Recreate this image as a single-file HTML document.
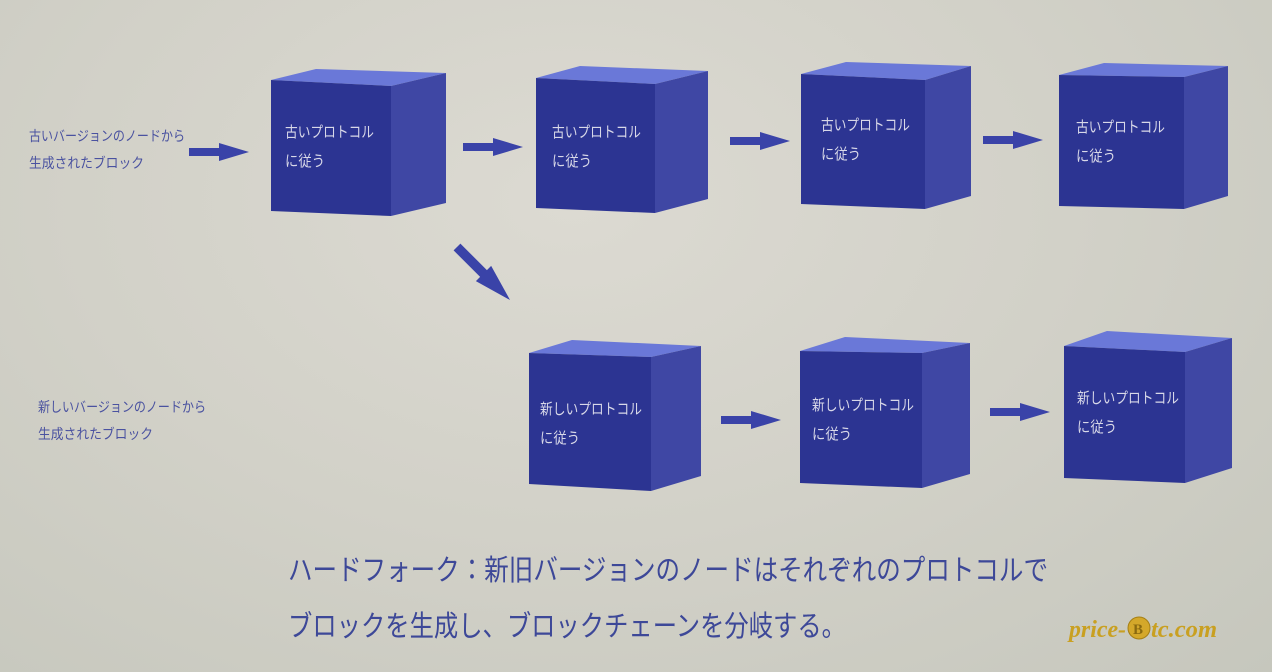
<!DOCTYPE html>
<html><head><meta charset="utf-8"><style>
html,body{margin:0;padding:0;}
body{width:1272px;height:672px;overflow:hidden;background:radial-gradient(ellipse at 45% 30%,#dcdad2 0%,#d2d1c8 50%,#c6c7bd 100%);font-family:"Liberation Sans","Noto Sans CJK JP",sans-serif;}
svg{position:absolute;left:0;top:0;}
</style></head><body>
<svg width="1272" height="672" viewBox="0 0 1272 672">
<defs>
<g id="arr"><polygon points="0,-4 30,-4 30,-9 60,0 30,9 30,4 0,4" fill="#3a43a8"/></g>
</defs>
<g font-family="Liberation Sans, Noto Sans CJK JP, sans-serif">
<polygon points="271,80 316,69 446,73 391,86" fill="#6a78d8"/>
<polygon points="391,86 446,73 446,203 391,216" fill="#3f47a4"/>
<polygon points="271,80 391,86 391,216 271,211" fill="#2c3492"/>
<text x="285" y="137" font-size="15" fill="#d8d8e8" textLength="89" lengthAdjust="spacingAndGlyphs">古いプロトコル</text>
<text x="285" y="166" font-size="15" fill="#d8d8e8" textLength="40" lengthAdjust="spacingAndGlyphs">に従う</text>
<polygon points="536,78 580,66 708,71 655,84" fill="#6a78d8"/>
<polygon points="655,84 708,71 708,199 655,213" fill="#3f47a4"/>
<polygon points="536,78 655,84 655,213 536,208" fill="#2c3492"/>
<text x="552" y="137" font-size="15" fill="#d8d8e8" textLength="89" lengthAdjust="spacingAndGlyphs">古いプロトコル</text>
<text x="552" y="166" font-size="15" fill="#d8d8e8" textLength="40" lengthAdjust="spacingAndGlyphs">に従う</text>
<polygon points="801,74 846,62 971,66 925,80" fill="#6a78d8"/>
<polygon points="925,80 971,66 971,196 925,209" fill="#3f47a4"/>
<polygon points="801,74 925,80 925,209 801,204" fill="#2c3492"/>
<text x="821" y="130" font-size="15" fill="#d8d8e8" textLength="89" lengthAdjust="spacingAndGlyphs">古いプロトコル</text>
<text x="821" y="159" font-size="15" fill="#d8d8e8" textLength="40" lengthAdjust="spacingAndGlyphs">に従う</text>
<polygon points="1059,75 1104,63 1228,66 1184,77" fill="#6a78d8"/>
<polygon points="1184,77 1228,66 1228,196 1184,209" fill="#3f47a4"/>
<polygon points="1059,75 1184,77 1184,209 1059,206" fill="#2c3492"/>
<text x="1076" y="132" font-size="15" fill="#d8d8e8" textLength="89" lengthAdjust="spacingAndGlyphs">古いプロトコル</text>
<text x="1076" y="161" font-size="15" fill="#d8d8e8" textLength="40" lengthAdjust="spacingAndGlyphs">に従う</text>
<polygon points="529,353 572,340 701,346 651,357" fill="#6a78d8"/>
<polygon points="651,357 701,346 701,476 651,491" fill="#3f47a4"/>
<polygon points="529,353 651,357 651,491 529,484" fill="#2c3492"/>
<text x="540" y="414" font-size="15" fill="#d8d8e8" textLength="102" lengthAdjust="spacingAndGlyphs">新しいプロトコル</text>
<text x="540" y="443" font-size="15" fill="#d8d8e8" textLength="40" lengthAdjust="spacingAndGlyphs">に従う</text>
<polygon points="800,351 845,337 970,343 922,353" fill="#6a78d8"/>
<polygon points="922,353 970,343 970,474 922,488" fill="#3f47a4"/>
<polygon points="800,351 922,353 922,488 800,483" fill="#2c3492"/>
<text x="812" y="410" font-size="15" fill="#d8d8e8" textLength="102" lengthAdjust="spacingAndGlyphs">新しいプロトコル</text>
<text x="812" y="439" font-size="15" fill="#d8d8e8" textLength="40" lengthAdjust="spacingAndGlyphs">に従う</text>
<polygon points="1064,346 1107,331 1232,338 1185,352" fill="#6a78d8"/>
<polygon points="1185,352 1232,338 1232,468 1185,483" fill="#3f47a4"/>
<polygon points="1064,346 1185,352 1185,483 1064,478" fill="#2c3492"/>
<text x="1077" y="403" font-size="15" fill="#d8d8e8" textLength="102" lengthAdjust="spacingAndGlyphs">新しいプロトコル</text>
<text x="1077" y="432" font-size="15" fill="#d8d8e8" textLength="40" lengthAdjust="spacingAndGlyphs">に従う</text>
<use href="#arr" transform="translate(189,152)"/>
<use href="#arr" transform="translate(463,147)"/>
<use href="#arr" transform="translate(730,141)"/>
<use href="#arr" transform="translate(983,140)"/>
<use href="#arr" transform="translate(721,420)"/>
<use href="#arr" transform="translate(990,412)"/>
<use href="#arr" transform="translate(457,247) rotate(45) scale(1.25,1.2)"/>
<text x="29" y="141" font-size="14" fill="#4a52a0" textLength="156" lengthAdjust="spacingAndGlyphs">古いバージョンのノードから</text>
<text x="29" y="168" font-size="14" fill="#4a52a0" textLength="115" lengthAdjust="spacingAndGlyphs">生成されたブロック</text>
<text x="38" y="412" font-size="14" fill="#4a52a0" textLength="168" lengthAdjust="spacingAndGlyphs">新しいバージョンのノードから</text>
<text x="38" y="439" font-size="14" fill="#4a52a0" textLength="115" lengthAdjust="spacingAndGlyphs">生成されたブロック</text>
<text x="288" y="580" font-size="29" fill="#3d4898" textLength="760" lengthAdjust="spacingAndGlyphs">ハードフォーク：新旧バージョンのノードはそれぞれのプロトコルで</text>
<text x="288" y="636" font-size="29" fill="#3d4898" textLength="558" lengthAdjust="spacingAndGlyphs">ブロックを生成し、ブロックチェーンを分岐する。</text>
<text x="1069" y="637" font-size="24" font-weight="bold" font-style="italic" font-family="Liberation Serif, serif" fill="#c9a021" textLength="57" lengthAdjust="spacingAndGlyphs">price-</text>
<circle cx="1139" cy="628" r="11" fill="#d4a82a" stroke="#a57f14"/>
<text x="1133" y="634" font-size="15" font-weight="bold" fill="#8a6a10" font-family="Liberation Serif, serif">B</text>
<text x="1151" y="637" font-size="24" font-weight="bold" font-style="italic" font-family="Liberation Serif, serif" fill="#c9a021" textLength="66" lengthAdjust="spacingAndGlyphs">tc.com</text>
</g>
</svg>
</body></html>
